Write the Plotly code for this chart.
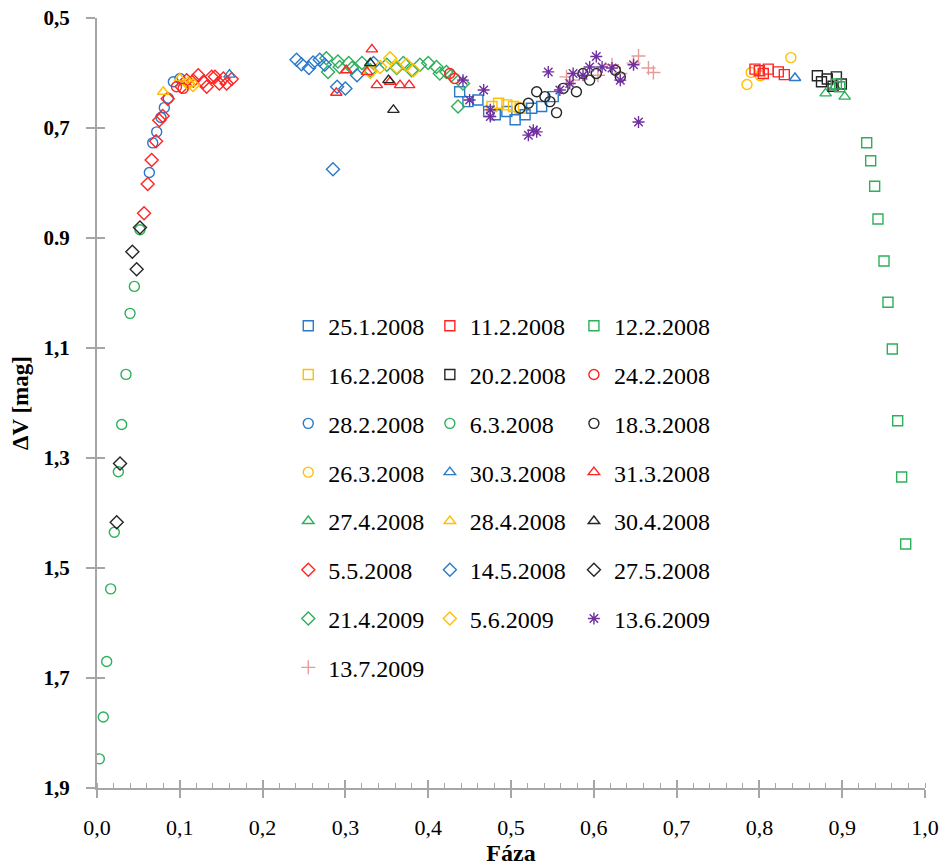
import plotly.graph_objects as go

# ---------------- data (phase, delta V) ----------------
x_25_1_2008 = [0.438, 0.448, 0.460, 0.473, 0.481, 0.495, 0.505, 0.517, 0.525, 0.537, 0.551]
y_25_1_2008 = [0.634, 0.652, 0.649, 0.670, 0.676, 0.670, 0.685, 0.676, 0.664, 0.661, 0.643]

x_11_2_2008 = [0.7947, 0.7999, 0.8047, 0.8107, 0.8228, 0.8301]
y_11_2_2008 = [0.593, 0.596, 0.601, 0.593, 0.598, 0.603]

x_12_2_2008 = [0.893, 0.897, 0.9296, 0.9344, 0.9392, 0.9432, 0.9505, 0.9553, 0.9605, 0.9670, 0.9718, 0.9767]
y_12_2_2008 = [0.620, 0.625, 0.7267, 0.7595, 0.8060, 0.8655, 0.9418, 1.0169, 1.1018, 1.2322, 1.3345, 1.4564]

x_16_2_2008 = [0.477, 0.485, 0.495, 0.503, 0.511]
y_16_2_2008 = [0.661, 0.655, 0.658, 0.661, 0.664]

x_20_2_2008 = [0.870, 0.875, 0.882, 0.889, 0.893, 0.899]
y_20_2_2008 = [0.605, 0.616, 0.611, 0.624, 0.607, 0.620]

x_24_2_2008 = [0.096, 0.104, 0.426, 0.432]
y_24_2_2008 = [0.625, 0.628, 0.601, 0.610]

x_28_2_2008 = [0.0632, 0.0673, 0.0721, 0.0773, 0.0813, 0.0861, 0.0922, 0.1002]
y_28_2_2008 = [0.781, 0.727, 0.707, 0.681, 0.663, 0.646, 0.616, 0.610]

x_6_3_2008 = [0.0028, 0.0076, 0.0117, 0.0165, 0.0209, 0.0258, 0.0298, 0.0350, 0.0399, 0.0451, 0.0519]
y_6_3_2008 = [1.847, 1.771, 1.670, 1.538, 1.435, 1.325, 1.239, 1.148, 1.037, 0.988, 0.885]

x_18_3_2008 = [0.511, 0.521, 0.531, 0.541, 0.547, 0.555, 0.563, 0.579, 0.587, 0.595, 0.603, 0.626, 0.632]
y_18_3_2008 = [0.664, 0.655, 0.634, 0.643, 0.652, 0.672, 0.628, 0.634, 0.601, 0.613, 0.601, 0.595, 0.607]

x_26_3_2008 = [0.785, 0.790, 0.801, 0.838]
y_26_3_2008 = [0.621, 0.599, 0.605, 0.572]

x_30_3_2008 = [0.160, 0.843]
y_30_3_2008 = [0.603, 0.609]

x_31_3_2008 = [0.289, 0.301, 0.326, 0.332, 0.338, 0.354, 0.366, 0.377]
y_31_3_2008 = [0.636, 0.595, 0.598, 0.557, 0.622, 0.616, 0.622, 0.622]

x_27_4_2008 = [0.880, 0.891, 0.903]
y_27_4_2008 = [0.637, 0.625, 0.643]

x_28_4_2008 = [0.080, 0.100, 0.112]
y_28_4_2008 = [0.634, 0.610, 0.619]

x_30_4_2008 = [0.330, 0.352, 0.358]
y_30_4_2008 = [0.582, 0.613, 0.667]

x_5_5_2008 = [0.0568, 0.0612, 0.0660, 0.0713, 0.0752, 0.0793, 0.0854, 0.1023, 0.1083, 0.1163,
              0.1223, 0.1284, 0.1325, 0.1385, 0.1425, 0.1477, 0.1526, 0.1566, 0.1627]
y_5_5_2008 = [0.855, 0.802, 0.758, 0.724, 0.686, 0.678, 0.647, 0.625, 0.613, 0.614,
              0.604, 0.616, 0.625, 0.607, 0.607, 0.619, 0.610, 0.619, 0.611]

x_14_5_2008 = [0.241, 0.247, 0.256, 0.261, 0.269, 0.275, 0.285, 0.290, 0.300, 0.314, 0.334]
y_14_5_2008 = [0.576, 0.584, 0.591, 0.581, 0.576, 0.585, 0.775, 0.625, 0.628, 0.604, 0.582]

x_27_5_2008 = [0.0238, 0.0278, 0.0427, 0.0479, 0.0519]
y_27_5_2008 = [1.417, 1.310, 0.925, 0.957, 0.881]

x_21_4_2009 = [0.277, 0.279, 0.291, 0.293, 0.304, 0.308, 0.320, 0.330, 0.350, 0.362,
               0.370, 0.380, 0.390, 0.400, 0.410, 0.414, 0.422, 0.428, 0.436, 0.442]
y_21_4_2009 = [0.573, 0.598, 0.579, 0.589, 0.582, 0.591, 0.582, 0.595, 0.585, 0.591,
               0.582, 0.595, 0.585, 0.582, 0.589, 0.601, 0.598, 0.604, 0.661, 0.619]

x_5_6_2009 = [0.110, 0.116, 0.330, 0.342, 0.354, 0.362, 0.374, 0.382]
y_5_6_2009 = [0.619, 0.622, 0.598, 0.589, 0.573, 0.589, 0.585, 0.595]

x_13_6_2009 = [0.442, 0.450, 0.467, 0.475, 0.475, 0.521, 0.527, 0.531, 0.545, 0.559,
               0.571, 0.575, 0.587, 0.595, 0.603, 0.610, 0.622, 0.632, 0.648, 0.654]
y_13_6_2009 = [0.613, 0.649, 0.631, 0.667, 0.679, 0.713, 0.704, 0.707, 0.598, 0.631,
               0.619, 0.601, 0.604, 0.589, 0.570, 0.589, 0.591, 0.613, 0.585, 0.689]

x_13_7_2009 = [0.567, 0.575, 0.605, 0.622, 0.632, 0.648, 0.654, 0.666, 0.672]
y_13_7_2009 = [0.607, 0.613, 0.604, 0.585, 0.601, 0.582, 0.569, 0.591, 0.599]

x_tick_vals = [0.0, 0.1, 0.2, 0.3, 0.4, 0.5, 0.6, 0.7, 0.8, 0.9, 1.0]
x_tick_text = ["0,0", "0,1", "0,2", "0,3", "0,4", "0,5", "0,6", "0,7", "0,8", "0,9", "1,0"]
y_tick_vals = [0.5, 0.7, 0.9, 1.1, 1.3, 1.5, 1.7, 1.9]
y_tick_text = ["0,5", "0,7", "0.9", "1,1", "1,3", "1,5", "1,7", "1,9"]

# ---------------- styles ----------------
BLUE, RED, GREEN, YELLOW, BLACK = "#2A7AC8", "#FF2424", "#2DB05A", "#FFC000", "#262626"
PURPLE, PINK = "#7030A0", "#E69A9A"

series = [
    # name, x, y, symbol, color, legend column
    ("25.1.2008", x_25_1_2008, y_25_1_2008, "square-open", BLUE, "legend"),
    ("16.2.2008", x_16_2_2008, y_16_2_2008, "square-open", YELLOW, "legend"),
    ("28.2.2008", x_28_2_2008, y_28_2_2008, "circle-open", BLUE, "legend"),
    ("26.3.2008", x_26_3_2008, y_26_3_2008, "circle-open", YELLOW, "legend"),
    ("27.4.2008", x_27_4_2008, y_27_4_2008, "triangle-up-open", GREEN, "legend"),
    ("5.5.2008", x_5_5_2008, y_5_5_2008, "diamond-open", RED, "legend"),
    ("21.4.2009", x_21_4_2009, y_21_4_2009, "diamond-open", GREEN, "legend"),
    ("13.7.2009", x_13_7_2009, y_13_7_2009, "cross-thin-open", PINK, "legend"),
    ("11.2.2008", x_11_2_2008, y_11_2_2008, "square-open", RED, "legend2"),
    ("20.2.2008", x_20_2_2008, y_20_2_2008, "square-open", BLACK, "legend2"),
    ("6.3.2008", x_6_3_2008, y_6_3_2008, "circle-open", GREEN, "legend2"),
    ("30.3.2008", x_30_3_2008, y_30_3_2008, "triangle-up-open", BLUE, "legend2"),
    ("28.4.2008", x_28_4_2008, y_28_4_2008, "triangle-up-open", YELLOW, "legend2"),
    ("14.5.2008", x_14_5_2008, y_14_5_2008, "diamond-open", BLUE, "legend2"),
    ("5.6.2009", x_5_6_2009, y_5_6_2009, "diamond-open", YELLOW, "legend2"),
    ("12.2.2008", x_12_2_2008, y_12_2_2008, "square-open", GREEN, "legend3"),
    ("24.2.2008", x_24_2_2008, y_24_2_2008, "circle-open", RED, "legend3"),
    ("18.3.2008", x_18_3_2008, y_18_3_2008, "circle-open", BLACK, "legend3"),
    ("31.3.2008", x_31_3_2008, y_31_3_2008, "triangle-up-open", RED, "legend3"),
    ("30.4.2008", x_30_4_2008, y_30_4_2008, "triangle-up-open", BLACK, "legend3"),
    ("27.5.2008", x_27_5_2008, y_27_5_2008, "diamond-open", BLACK, "legend3"),
    ("13.6.2009", x_13_6_2009, y_13_6_2009, "asterisk-open", PURPLE, "legend3"),
]

fig = go.Figure()
for name, xs, ys, sym, col, leg in series:
    fig.add_trace(go.Scatter(
        x=xs, y=ys, mode="markers", name=name, legend=leg, legendgroup=name,
        marker=dict(symbol=sym, size=10, color=col, line=dict(color=col, width=1.4)),
    ))

FONT = "Liberation Serif"
AXIS_COLOR = "#A6A6A6"
leg_common = dict(font=dict(family=FONT, size=24, color="#000"), bgcolor="rgba(0,0,0,0)",
                  tracegroupgap=14.6, xanchor="left", yanchor="top", itemsizing="trace")

fig.update_layout(
    width=944, height=866,
    margin=dict(l=97, r=19, t=18, b=78),
    paper_bgcolor="white", plot_bgcolor="white",
    showlegend=True,
    legend=dict(x=0.231, y=0.629, **leg_common),
    legend2=dict(x=0.402, y=0.629, **leg_common),
    legend3=dict(x=0.576, y=0.629, **leg_common),
    xaxis=dict(
        range=[0, 1], tickvals=x_tick_vals, ticktext=x_tick_text, automargin=False,
        showgrid=False, zeroline=False, showline=True, linecolor=AXIS_COLOR, linewidth=2,
        ticks="outside", ticklen=8, tickwidth=1.5, tickcolor=AXIS_COLOR,
        minor=dict(dtick=0.02, ticks="inside", ticklen=5, tickwidth=1, tickcolor=AXIS_COLOR, showgrid=False),
        tickfont=dict(family=FONT, size=22, color="#000"),
        ticklabelstandoff=11,
        title=dict(text="<b>Fáza</b>", font=dict(family=FONT, size=24, color="#000"), standoff=14),
    ),
    xaxis2=dict(
        range=[0, 1], overlaying="x", tickvals=x_tick_vals, showticklabels=False, automargin=False,
        showgrid=False, zeroline=False, showline=False,
        ticks="inside", ticklen=8, tickwidth=1.5, tickcolor=AXIS_COLOR,
    ),
    yaxis=dict(
        range=[1.9, 0.5], tickvals=y_tick_vals, ticktext=y_tick_text, automargin=False,
        showgrid=False, zeroline=False, showline=True, linecolor=AXIS_COLOR, linewidth=2,
        ticks="outside", ticklen=9, tickwidth=1.5, tickcolor=AXIS_COLOR,
        tickfont=dict(family=FONT, size=21, color="#000", weight="bold"),
        ticklabelstandoff=12,
        title=dict(text="<b>ΔV [mag]</b>", font=dict(family=FONT, size=23, color="#000"), standoff=8),
    ),
    yaxis2=dict(
        range=[1.9, 0.5], overlaying="y", tickvals=y_tick_vals, showticklabels=False, automargin=False,
        showgrid=False, zeroline=False, showline=False,
        ticks="inside", ticklen=8, tickwidth=1.5, tickcolor=AXIS_COLOR,
    ),
)
# invisible trace to activate the secondary (tick-only) axes
fig.add_trace(go.Scatter(x=[None], y=[None], xaxis="x2", yaxis="y2", showlegend=False, hoverinfo="skip"))

fig.write_html("out.html")
